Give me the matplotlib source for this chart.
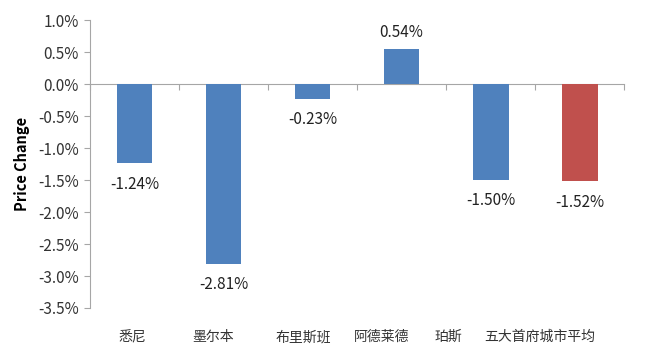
import matplotlib
matplotlib.use("Agg")
import matplotlib.pyplot as plt
import numpy as np
from matplotlib.ticker import FuncFormatter, FixedLocator

plt.rcParams['font.family'] = ['Noto Sans CJK SC', 'DejaVu Sans']

# data
cities = ["悉尼", "墨尔本", "布里斯班", "阿德莱德", "珀斯", "五大首府城市平均"]
price_change = [-1.24, -2.81, -0.23, 0.54, -1.50, -1.52]
bar_colors = ["#4F81BD"] * 5 + ["#C0504D"]
y_ticks = [1.0, 0.5, 0.0, -0.5, -1.0, -1.5, -2.0, -2.5, -3.0, -3.5]

# labels in the source sit a little left of their bars
label_shift = [-0.02, -0.12, -0.11, -0.22, -0.48, -0.45]

fig = plt.figure(figsize=(6.47, 3.52), dpi=100)
ax = fig.add_axes([0.139, 0.125, 0.826, 0.818])

x = np.arange(len(cities))
ax.bar(x, price_change, width=0.4, color=bar_colors, zorder=3)

for xi, v in zip(x, price_change):
    off = 12 if v > 0 else -15
    ax.annotate(f"{v:.2f}%", (xi, v), xytext=(0, off), textcoords="offset points",
                ha="center", va="center", fontsize=11, color="#222222")

ax.set_xlim(-0.5, len(cities) - 0.5)
ax.set_ylim(-3.5, 1.0)
ax.set_yticks(y_ticks)
ax.yaxis.set_major_formatter(FuncFormatter(lambda v, p: f"{v:.1f}%"))
ax.tick_params(axis="y", length=4, color="#A6A6A6", labelsize=11, labelcolor="#333333", pad=4)

# category labels at the bottom, no bottom spine
ax.set_xticks(x + np.array(label_shift))
ax.set_xticklabels(cities, fontsize=10, color="#333333")
ax.tick_params(axis="x", length=0, pad=16)

for s in ["top", "right", "bottom"]:
    ax.spines[s].set_visible(False)
ax.spines["left"].set_color("#A6A6A6")

# zero axis line with boundary ticks
sec = ax.secondary_xaxis(0, transform=ax.transData)
sec.spines["bottom"].set_color("#A6A6A6")
sec.xaxis.set_major_locator(FixedLocator(np.arange(len(cities) + 1) - 0.5))
sec.tick_params(axis="x", length=4, color="#A6A6A6", labelbottom=False)

ax.set_ylabel("Price Change", fontsize=10.5, fontweight="bold", labelpad=6)

fig.savefig("out.png", dpi=100)
